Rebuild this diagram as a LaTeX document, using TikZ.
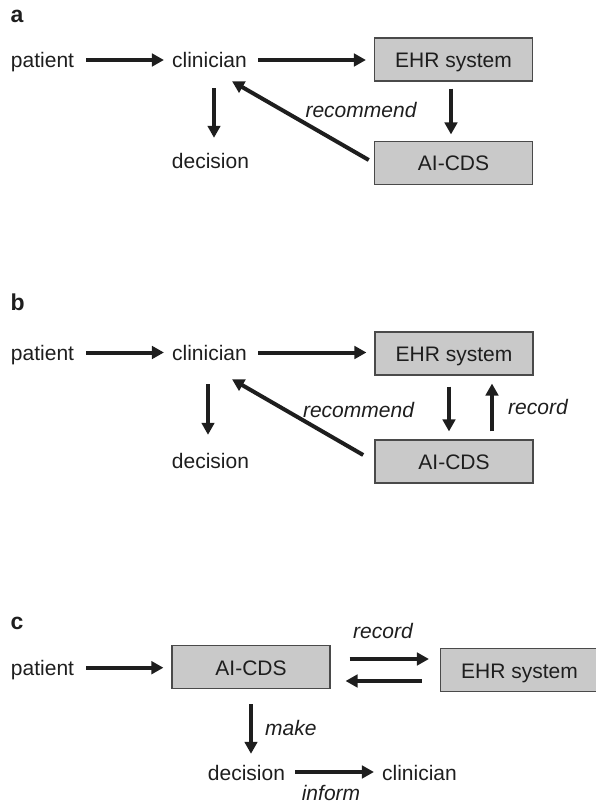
\documentclass[tikz,border=0pt]{standalone}
\usepackage{fontspec}
\setmainfont{Liberation Sans}
\usetikzlibrary{arrows.meta,calc}
\definecolor{boxfill}{HTML}{C9C9C9}
\definecolor{boxline}{HTML}{4A4A4A}
\definecolor{ink}{HTML}{1E1E1E}
\begin{document}
\begin{tikzpicture}[x=1pt,y=-1pt,
  txt/.style={inner sep=0pt, text height=16pt, text depth=0pt, anchor=base, text=ink, font=\fontsize{21}{25}\selectfont},
  itl/.style={inner sep=0pt, anchor=base, text=ink, font=\fontsize{21}{25}\selectfont\itshape},
  lab/.style={inner sep=0pt, anchor=base west, text=ink, font=\fontsize{23}{26}\selectfont\bfseries},
  box/.style={draw=boxline, fill=boxfill, line width=1.1pt, minimum width=158pt, minimum height=43pt, inner sep=0pt, text height=16pt, text depth=0pt, text=ink, font=\fontsize{21}{25}\selectfont},
  arr/.style={line width=4pt, draw=ink, -{Triangle[length=12pt,width=12.5pt]}}
]
\useasboundingbox (0,0) rectangle (596,805);
\clip (0,0) rectangle (596,805);

% ---------- panel a ----------
\node[lab] (la) at (10.5,22.7) {a};
\node[txt] (patA) at (42.5,68) {patient};
\node[txt] (clinA) at (209.5,68) {clinician};
\node[box] (ehrA) at (453.5,59.5) {EHR system};
\node[box] (aiA) at (453.5,163) {AI-CDS};
\node[txt] (decA) at (210.5,169) {decision};
\node[itl] (recA) at (361,118) {recommend};

\draw[arr, shorten <=12pt, shorten >=8pt] (patA.east) -- (clinA.west);
\draw[arr, shorten <=11pt, shorten >=8pt] (clinA.east) -- (clinA.east -| ehrA.west);
\draw[arr, shorten <=7pt, shorten >=6.5pt] ([xshift=-2.5pt]ehrA.south) -- ([xshift=-2.5pt]aiA.north);
\draw[arr, shorten <=20pt, shorten >=15pt] ([xshift=4.5pt]clinA.south) -- ([xshift=4.5pt]clinA.south |- decA.north);
\draw[arr, shorten <=6pt] (aiA.west) -- ([shift={(22.5,13)}]clinA.south);

% ---------- panel b ----------
\node[lab] (lb) at (10.5,310) {b};
\node[txt] (patB) at (42.5,360.5) {patient};
\node[txt] (clinB) at (209.5,360.5) {clinician};
\node[box] (ehrB) at (454,353.5) {EHR system};
\node[box] (aiB) at (454,461.5) {AI-CDS};
\node[txt] (decB) at (210.5,468) {decision};
\node[itl] (recB) at (358.5,417) {recommend};
\node[itl] (rcdB) at (538,414) {record};

\draw[arr, shorten <=12pt, shorten >=8pt] (patB.east) -- (clinB.west);
\draw[arr, shorten <=11pt, shorten >=8pt] (clinB.east) -- (clinB.east -| ehrB.west);
\draw[arr, shorten <=11pt, shorten >=8pt] ([xshift=-5pt]ehrB.south) -- ([xshift=-5pt]aiB.north);
\draw[arr, shorten <=8pt, shorten >=8pt] ([xshift=38pt]aiB.north) -- ([xshift=38pt]ehrB.south);
\draw[arr, shorten <=23.5pt, shorten >=17pt] ([xshift=-1.5pt]clinB.south) -- ([xshift=-1.5pt]clinB.south |- decB.north);
\draw[arr, shorten <=13pt] (aiB.west) -- ([shift={(22.5,18.5)}]clinB.south);

% ---------- panel c ----------
\node[lab] (lc) at (10.5,629) {c};
\node[txt] (patC) at (42.5,675.7) {patient};
\node[box] (aiC) at (251,667) {AI-CDS};
\node[box] (ehrC) at (519.5,670) {EHR system};
\node[itl] (rcdC) at (383,638) {record};
\node[itl, anchor=base west] (makeC) at (265,735) {make};
\node[txt] (decC) at (246.5,780) {decision};
\node[txt] (clinC) at (419.5,780) {clinician};
\node[itl] (infC) at (331,800) {inform};

\draw[arr, shorten <=12pt, shorten >=8pt] (patC.east) -- (patC.east -| aiC.west);
\draw[arr, shorten <=19pt, shorten >=11pt] ([yshift=8pt]aiC.east) -- ([yshift=8pt]aiC.east -| ehrC.west);
\draw[arr, shorten <=18pt, shorten >=15pt] ([yshift=-14pt]aiC.east -| ehrC.west) -- ([yshift=-14pt]aiC.east);
\draw[arr, shorten <=15pt, shorten >=10pt] (aiC.south) -- (aiC.south |- decC.north);
\draw[arr, shorten <=10pt, shorten >=8pt] (decC.east) -- (clinC.west);
\end{tikzpicture}
\end{document}
